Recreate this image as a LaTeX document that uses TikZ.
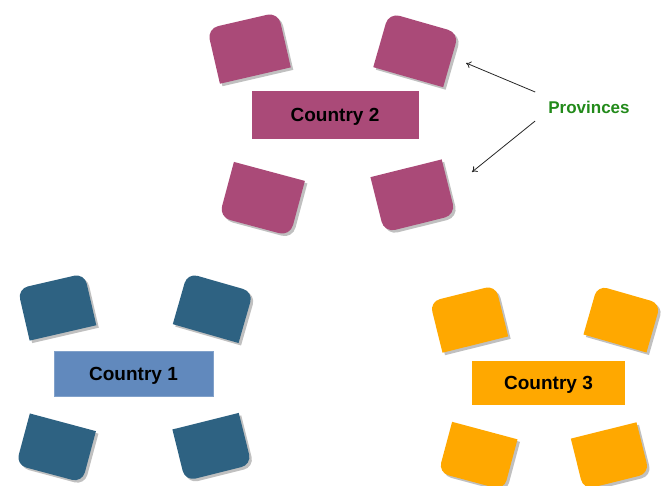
\documentclass[tikz,border=0pt]{standalone}
\usepackage{fontspec}
\setmainfont{Liberation Sans}
\usetikzlibrary{arrows.meta}
\definecolor{plum}{HTML}{AA4A78}
\definecolor{navytile}{HTML}{2E6282}
\definecolor{skybox}{HTML}{6189BD}
\definecolor{ambertile}{HTML}{FFA800}
\definecolor{leaf}{HTML}{228A1A}
\def\uptilepath{(-36,28) -- (-36,-17) .. controls (-36,-23.1) and (-31.1,-28) .. (-25,-28) -- (25,-28) .. controls (31.1,-28) and (36,-23.1) .. (36,-17) -- (36,28) -- cycle}
\def\downtilepath{(-36,-28) -- (-36,17) .. controls (-36,23.1) and (-31.1,28) .. (-25,28) -- (25,28) .. controls (31.1,28) and (36,23.1) .. (36,17) -- (36,-28) -- cycle}
% #1 path, #2 cx, #3 cy, #4 angle, #5 colour, #6 scale
\newcommand\provtile[6]{%
  \fill[black!55, opacity=.45, shift={(#2+2.5,#3+2.5)}, rotate=#4, scale=#6] #1;
  \fill[#5, shift={(#2,#3)}, rotate=#4, scale=#6] #1;
}
\tikzset{
  countrybox/.style={rectangle, inner sep=0pt, text=black, text depth=0pt,
    font=\fontsize{19}{22}\selectfont\bfseries},
  pointer/.style={draw=black!85, line width=0.8pt, -{To[length=5pt,width=7pt]}},
}
\begin{document}
\begin{tikzpicture}[x=1pt, y=-1pt]
\useasboundingbox (0,0) rectangle (664,486);
% Country 2
\provtile{\uptilepath}{249}{48}{13}{plum}{1.01}
\provtile{\uptilepath}{416}{50}{-16}{plum}{1.01}
\provtile{\downtilepath}{262}{199}{-15}{plum}{1.02}
\provtile{\downtilepath}{413}{196}{14}{plum}{1.02}
\node[countrybox, fill=plum, minimum width=167pt, minimum height=48pt] (c2) at (335,115) {Country 2};
% Country 1
\provtile{\uptilepath}{57}{307}{13}{navytile}{0.95}
\provtile{\uptilepath}{213}{308}{-16}{navytile}{0.95}
\provtile{\downtilepath}{56}{448}{-15}{navytile}{0.95}
\provtile{\downtilepath}{212}{447}{14}{navytile}{0.95}
\node[countrybox, fill=skybox, draw=skybox!80!white, minimum width=159pt, minimum height=45pt] (c1) at (133.5,373.5) {Country 1};
% Country 3
\provtile{\uptilepath}{469}{319}{14}{ambertile}{0.94}
\provtile{\uptilepath}{622}{319}{-16}{ambertile}{0.91}
\provtile{\downtilepath}{478}{456}{-15}{ambertile}{0.94}
\provtile{\downtilepath}{610}{456}{14}{ambertile}{0.94}
\node[countrybox, fill=ambertile, minimum width=153pt, minimum height=44pt] (c3) at (548.5,383) {Country 3};
% Provinces label and pointers
\node[inner sep=0pt, text=leaf, font=\fontsize{17}{20}\selectfont\bfseries] (prov) at (589,107) {Provinces};
\coordinate (p2tr) at (466,63);
\coordinate (p2br) at (472,172);
\draw[pointer] ([xshift=-13pt, yshift=15pt]prov.west) -- (p2tr);
\draw[pointer] ([xshift=-13pt, yshift=-14pt]prov.west) -- (p2br);
\end{tikzpicture}
\end{document}
